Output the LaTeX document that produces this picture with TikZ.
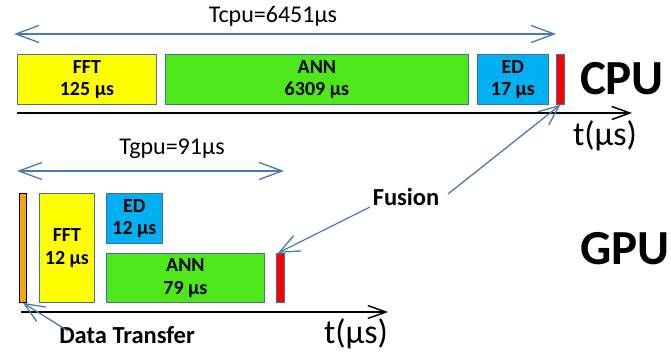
\documentclass[tikz,border=0pt]{standalone}
\usepackage{fontspec}
\setmainfont{Carlito}
\usetikzlibrary{arrows.meta}
\definecolor{arrblue}{HTML}{4A7BB0}
\definecolor{edgeblue}{HTML}{41719C}
\definecolor{fftyellow}{HTML}{FFFF00}
\definecolor{anngreen}{HTML}{4EE81A}
\definecolor{edblue}{HTML}{00B0F0}
\definecolor{fusred}{HTML}{FF0000}
\definecolor{dtorange}{HTML}{F4A70A}
\tikzset{
  box/.style={draw=edgeblue, line width=0.8pt, inner sep=0pt, align=center,
    anchor=north west, font=\bfseries\fontsize{20}{22.5}\selectfont},
  bar/.style={draw=edgeblue, line width=0.8pt, inner sep=0pt, anchor=north west,
    minimum width=8pt},
  spanarr/.style={draw=arrblue, line width=1.3pt,
    {Straight Barb[length=23pt,width=17pt]}-{Straight Barb[length=23pt,width=17pt]}},
  ptrarr/.style={draw=arrblue, line width=1.3pt, -{Straight Barb[length=20pt,width=17pt]}},
  axisarr/.style={draw=black, line width=1.5pt, -{Straight Barb[length=18pt,width=13pt]}},
  lbl/.style={inner sep=0pt, font=\fontsize{24}{28}\selectfont},
  tlbl/.style={inner sep=0pt, font=\fontsize{34}{40}\selectfont},
  big/.style={inner sep=0pt, font=\bfseries\fontsize{49}{56}\selectfont},
  blbl/.style={inner sep=0pt, font=\bfseries\fontsize{24.5}{28}\selectfont}
}
\begin{document}
\begin{tikzpicture}[x=1pt,y=-1pt]
\useasboundingbox (0,0) rectangle (671,355);
% ---------------- CPU ----------------
\coordinate (tcl) at (14,34);
\coordinate (tcr) at (556,34);
\draw[spanarr] (tcl) -- (tcr);
\node[lbl] (tcpu) at (273,16) {Tcpu=6451µs};
\node[box, fill=fftyellow, minimum width=139pt, minimum height=50pt] (cfft) at (17,54) {FFT\\125 µs};
\node[box, fill=anngreen, minimum width=303pt, minimum height=50pt] (cann) at (165,54) {ANN\\6309 µs};
\node[box, fill=edblue, minimum width=71pt, minimum height=50pt] (ced) at (477,54) {ED\\17 µs};
\node[bar, fill=fusred, minimum height=50pt] (cred) at (556,54) {};
\coordinate (cax0) at (17,113);
\coordinate (cax1) at (632,113);
\draw[axisarr] (cax0) -- (cax1);
\node[tlbl] (ct) at (605,136) {t(µs)};
\node[big] (cpu) at (622,79) {CPU};
% ---------------- GPU ----------------
\coordinate (tgl) at (17,171);
\coordinate (tgr) at (284,171);
\draw[spanarr] (tgl) -- (tgr);
\node[lbl] (tgpu) at (172,149) {Tgpu=91µs};
\node[bar, draw=black, fill=dtorange, minimum width=7pt, minimum height=109pt] (dt) at (19,193) {};
\node[box, fill=fftyellow, minimum width=55pt, minimum height=109pt] (gfft) at (39,193) {FFT\\12 µs};
\node[box, fill=edblue, minimum width=56pt, minimum height=50pt] (ged) at (106,193) {ED\\12 µs};
\node[box, fill=anngreen, minimum width=158pt, minimum height=49pt] (gann) at (106,253) {ANN\\79 µs};
\node[bar, fill=fusred, minimum height=49pt] (gred) at (276,253) {};
\coordinate (gax0) at (21,312);
\coordinate (gax1) at (388,312);
\draw[axisarr] (gax0) -- (gax1);
\node[tlbl] (gt) at (356,334) {t(µs)};
\node[big] (gpu) at (625,249) {GPU};
% ---------------- labels & pointers ----------------
\node[blbl] (fusion) at (406,197) {Fusion};
\node[blbl] (dtl) at (127,335) {Data Transfer};
\coordinate (fusA) at (448,194);
\coordinate (fusB) at (370,207);
\coordinate (dtA) at (68,331);
\draw[ptrarr] (fusA) -- (cred.south);
\draw[ptrarr] (fusB) -- ([xshift=2pt]gred.north west);
\draw[ptrarr] (dtA) -- (dt.south);
\end{tikzpicture}
\end{document}
